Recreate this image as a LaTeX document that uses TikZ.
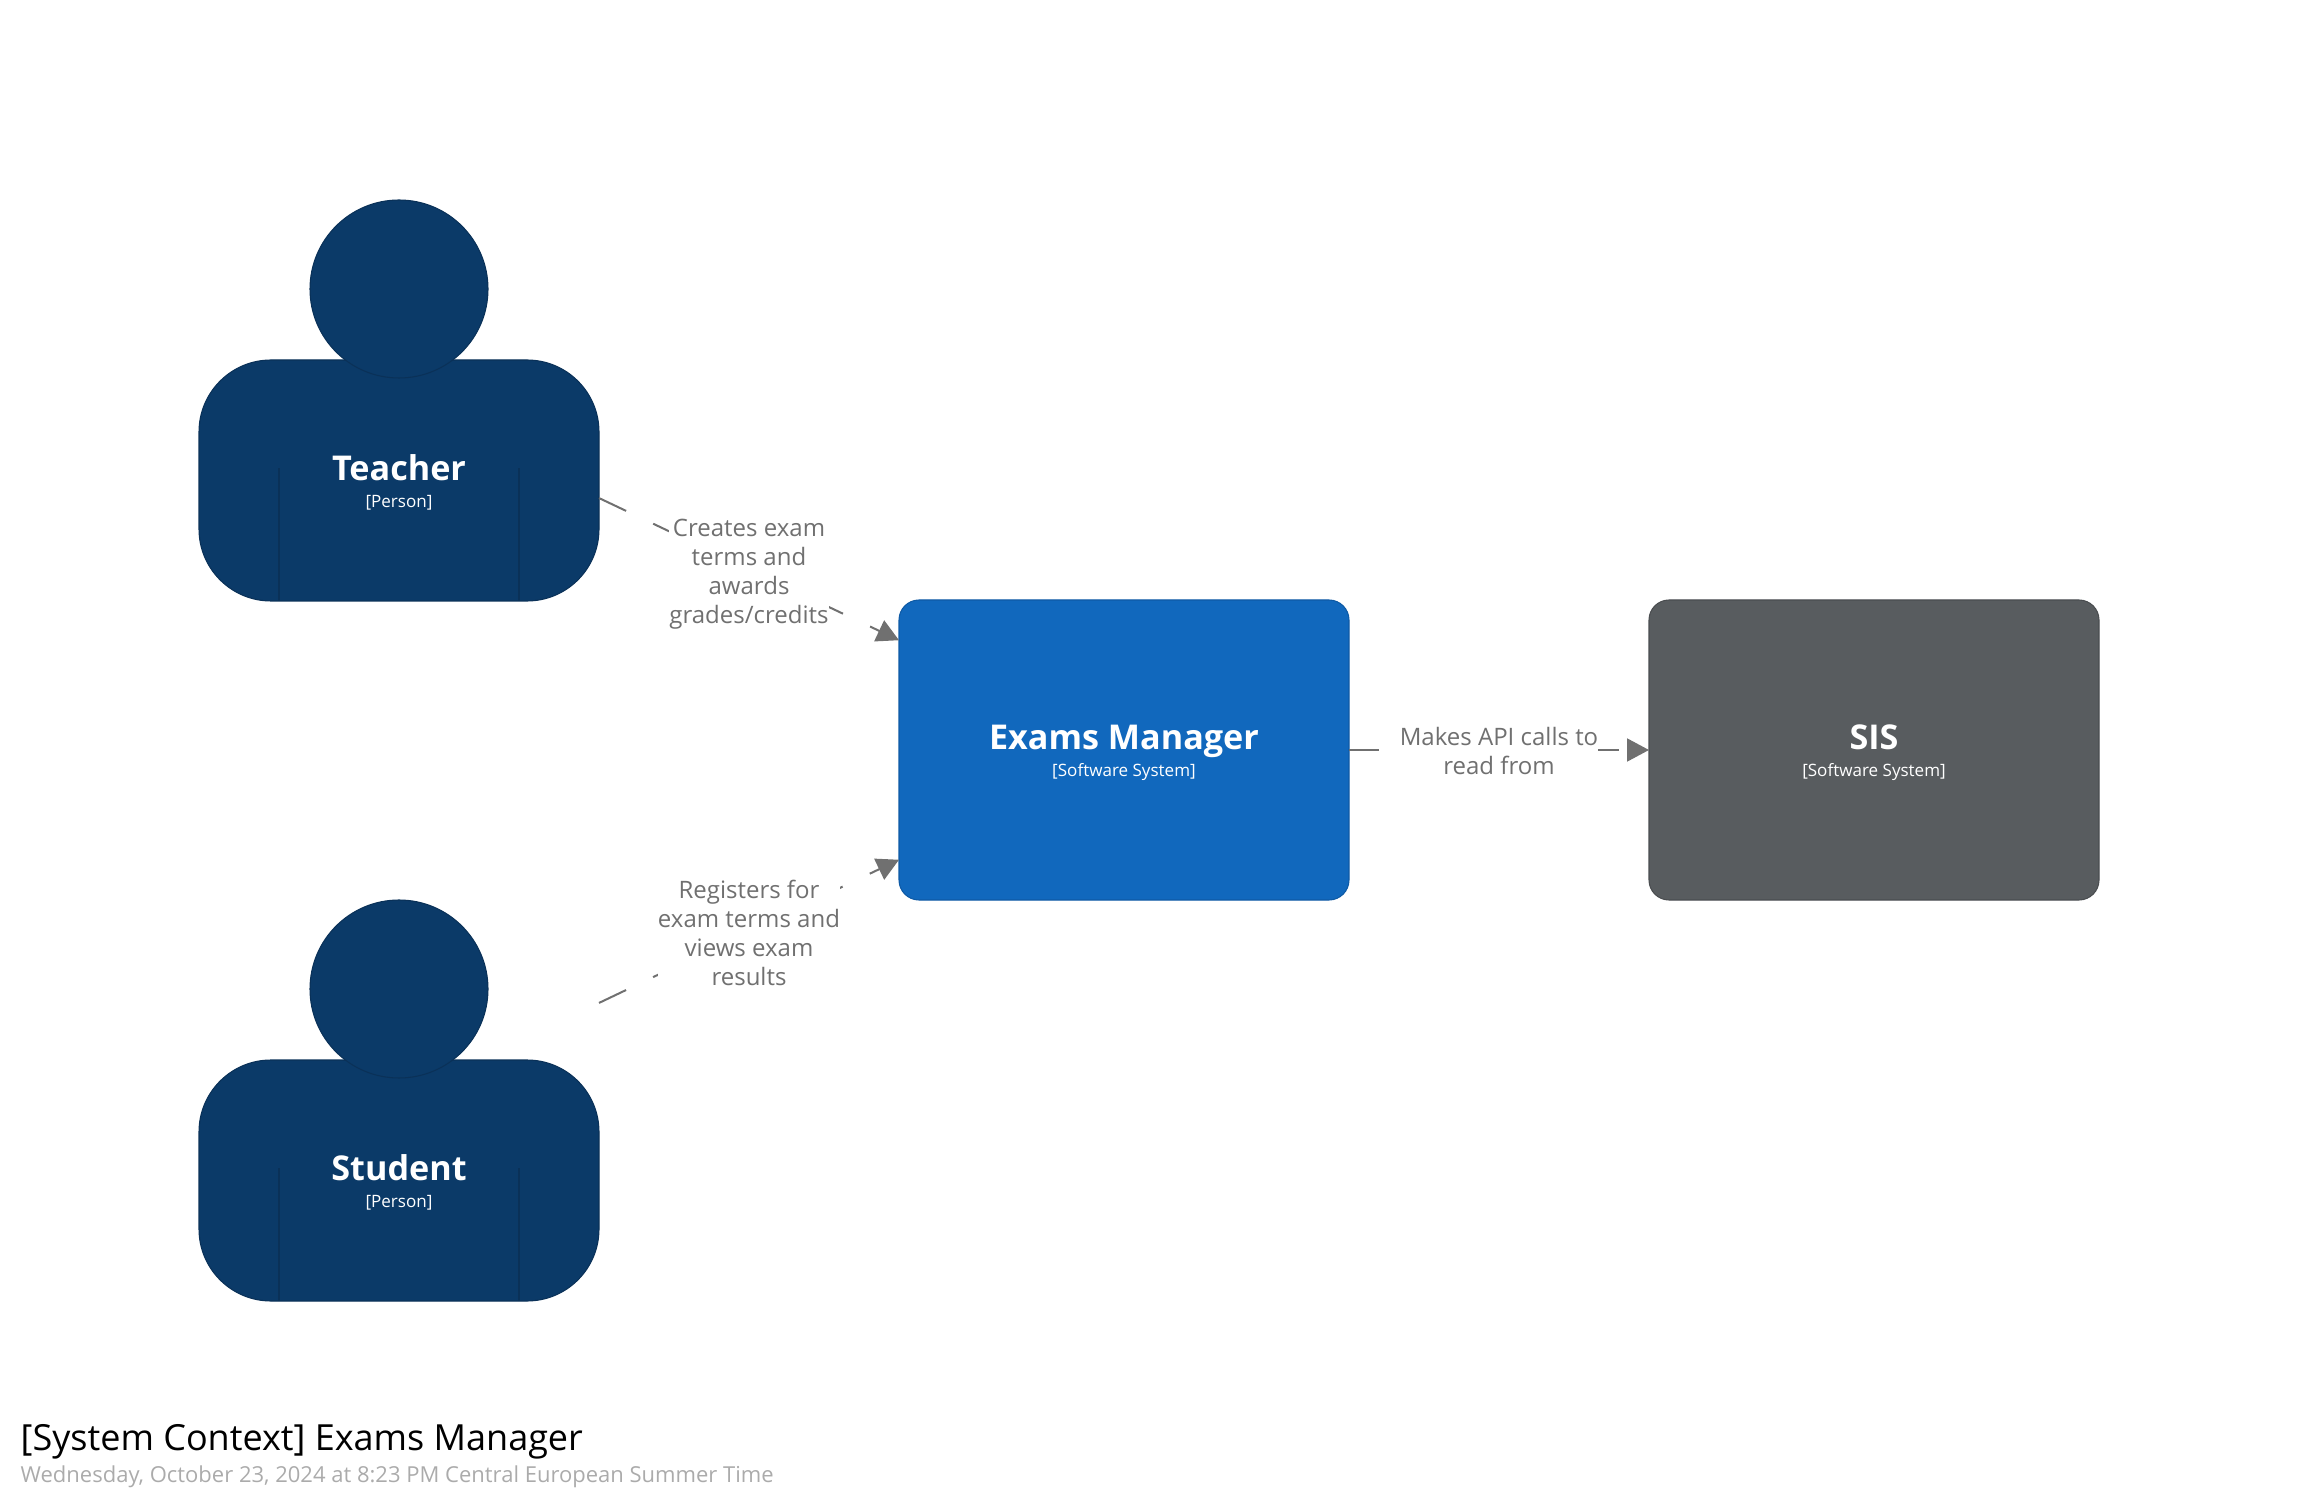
\documentclass[tikz,border=0pt]{standalone}
\usepackage{fontspec}
\setmainfont{Open Sans}
\usetikzlibrary{arrows.meta,fit}
\definecolor{personfill}{HTML}{0B3A68}
\definecolor{personedge}{HTML}{0A3158}
\definecolor{examsfill}{HTML}{1168BD}
\definecolor{examsedge}{HTML}{0E5AA5}
\definecolor{sisfill}{HTML}{585C5F}
\definecolor{sisedge}{HTML}{4A4D50}
\definecolor{linkgray}{HTML}{707070}
\definecolor{dategray}{HTML}{ABABAB}
\newcommand{\nametext}[1]{{\fontsize{9.72}{12.3}\selectfont\bfseries\rule{0pt}{8.6pt}#1}}
\newcommand{\kindtext}[1]{{\fontsize{4.85}{7}\selectfont #1}}
\begin{document}
\begin{tikzpicture}[
    personbody/.style={draw=personedge, fill=personfill, rectangle, rounded corners=0.72cm,
                       minimum width=4.0cm, minimum height=2.41cm, inner sep=0pt, outer sep=0pt,
                       line width=0.3pt, text=white, align=center},
    personhead/.style={draw=personedge, fill=personfill, circle, minimum size=1.78cm,
                       inner sep=0pt, outer sep=0pt, line width=0.3pt},
    personbox/.style={rectangle, inner sep=0pt, outer sep=0pt},
    personline/.style={draw=personedge, line width=0.3pt},
    system/.style={rectangle, rounded corners=0.2cm, minimum width=4.5cm, minimum height=3.0cm,
                   inner sep=0pt, outer sep=0pt, line width=0.3pt, text=white, align=center},
    link/.style={draw=linkgray, line width=0.57pt, dash pattern=on 0.3cm off 0.3cm,
                 -{Triangle[length=0.22cm, width=0.23cm, fill=linkgray]}},
    linklabel/.style={fill=white, inner sep=0pt, text=linkgray, align=center,
                      font=\fontsize{6.83}{8.25}\selectfont}
]
    \useasboundingbox (0,0) rectangle (23,15);

    \node[personbody] (teacherbody) at (3.99, 10.195) {\nametext{Teacher}\\[-4.4pt]\kindtext{[Person]}};
    \node[personhead] (teacherhead) at (3.99, 12.11) {};
    \node[personbox, fit=(teacherhead)(teacherbody)] (teacher) {};
    \draw[personline] ([xshift=0.8cm]teacherbody.south west) -- ++(0, 1.33);
    \draw[personline] ([xshift=-0.8cm]teacherbody.south east) -- ++(0, 1.33);

    \node[personbody] (studentbody) at (3.99, 3.195) {\nametext{Student}\\[-4.4pt]\kindtext{[Person]}};
    \node[personhead] (studenthead) at (3.99, 5.11) {};
    \node[personbox, fit=(studenthead)(studentbody)] (student) {};
    \draw[personline] ([xshift=0.8cm]studentbody.south west) -- ++(0, 1.33);
    \draw[personline] ([xshift=-0.8cm]studentbody.south east) -- ++(0, 1.33);

    \node[system, draw=examsedge, fill=examsfill] (exams) at (11.24, 7.5) {\nametext{Exams Manager}\\[-4.4pt]\kindtext{[Software System]}};
    \node[system, draw=sisedge, fill=sisfill] (sis) at (18.74, 7.5) {\nametext{SIS}\\[-4.4pt]\kindtext{[Software System]}};

    \draw[link] (teacher.-26) -- node[linklabel, yshift=-0.05cm]{Creates exam\\terms and\\awards\\grades/credits} (exams.154);
    \draw[link] (student.26) -- node[linklabel, yshift=-0.015cm]{Registers for\\exam terms and\\views exam\\results} (exams.206);
    \draw[link] (exams.east) -- node[linklabel, yshift=-0.015cm]{Makes API calls to\\read from} (sis.west);

    \node[anchor=base west, inner sep=0pt, font=\fontsize{10.24}{12}\selectfont] (title) at (0.2, 0.5) {[System Context] Exams Manager};
    \node[anchor=base west, inner sep=0pt, text=dategray, font=\fontsize{6.26}{8}\selectfont] (date) at (0.2, 0.18) {Wednesday, October 23, 2024 at 8:23 PM Central European Summer Time};
\end{tikzpicture}
\end{document}
